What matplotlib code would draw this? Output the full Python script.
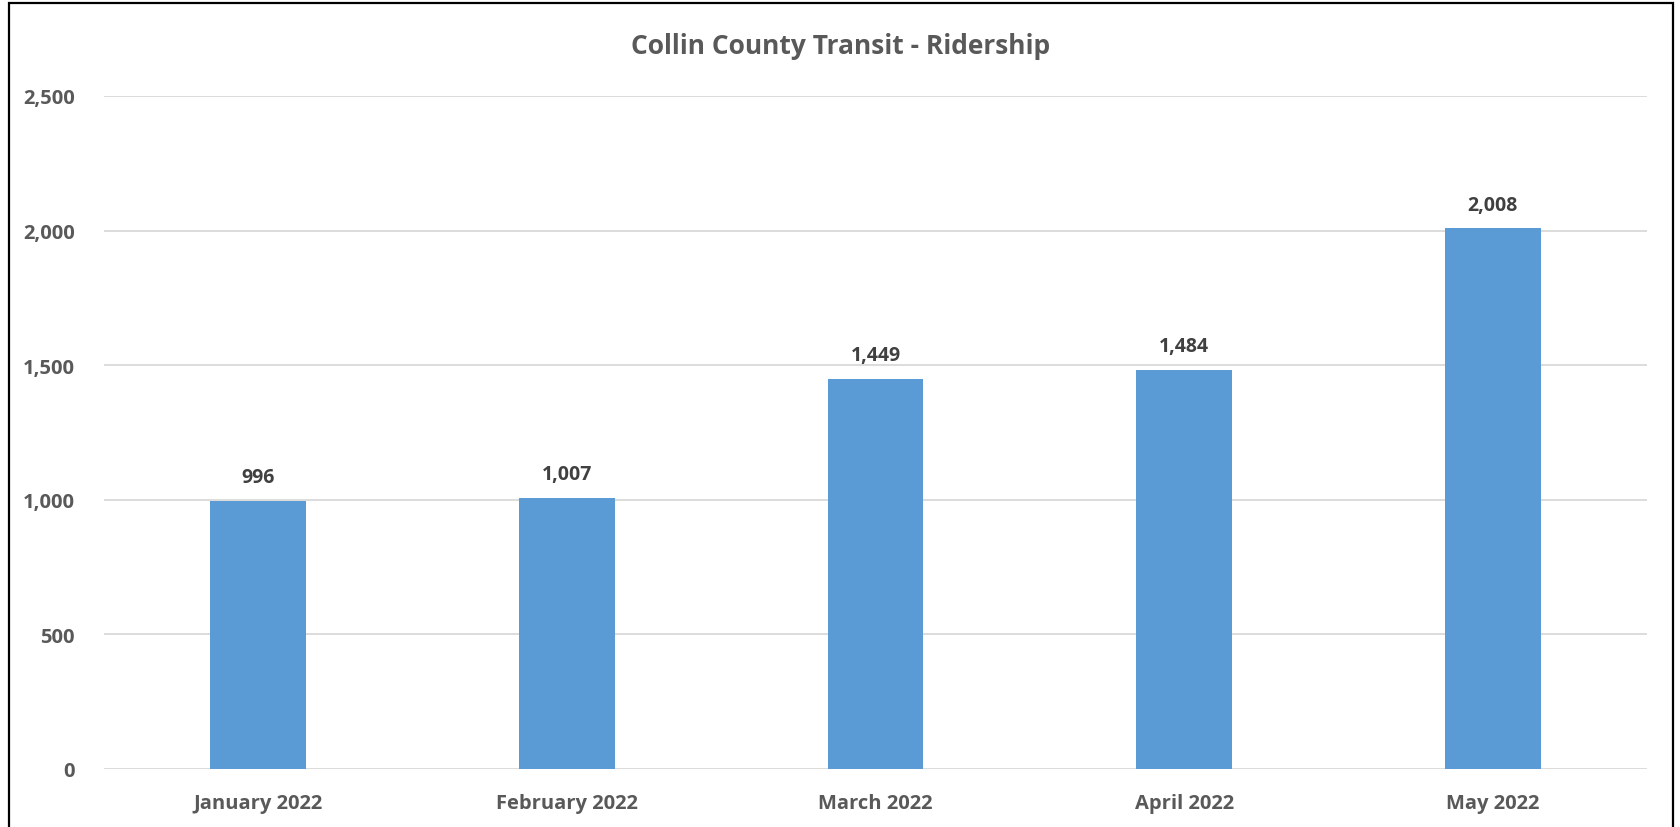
import matplotlib.pyplot as plt
from matplotlib.patches import Rectangle
from matplotlib.ticker import FuncFormatter

# data
months = ['January 2022', 'February 2022', 'March 2022', 'April 2022', 'May 2022']
riders = [996, 1007, 1449, 1484, 2008]
y_ticks = [0, 500, 1000, 1500, 2000, 2500]

plt.rcParams['font.family'] = ['Open Sans', 'DejaVu Sans']
plt.rcParams['font.weight'] = 'bold'

fig = plt.figure(figsize=(16.81, 8.28), dpi=100)
ax = fig.add_axes([104 / 1681, 1 - 770 / 828, (1647 - 104) / 1681, (770 - 97) / 828])

x = range(len(months))
bars = ax.bar(x, riders, width=0.31, color='#5B9BD5', zorder=3)

ax.set_xlim(-0.5, len(months) - 0.5)
ax.set_ylim(0, 2500)
ax.set_yticks(y_ticks)
ax.yaxis.set_major_formatter(FuncFormatter(lambda v, p: f'{int(v):,}'))
ax.set_xticks(list(x))
ax.set_xticklabels(months)

# 격자
ax.grid(axis='y', color='#D9D9D9', linewidth=1.3, zorder=0)
for s in ax.spines.values():
    s.set_visible(False)
ax.tick_params(length=0, labelsize=14.5, labelcolor='#595959')
ax.tick_params(axis='x', labelsize=14.5, pad=17)
ax.tick_params(axis='y', pad=21)

for b, v in zip(bars, riders):
    ax.annotate(f'{v:,}', (b.get_x() + b.get_width() / 2, v),
                xytext=(0, 10), textcoords='offset points',
                ha='center', va='bottom', fontsize=14, fontweight='bold',
                color='#404040')

fig.text(0.5, 1 - 47 / 828, 'Collin County Transit - Ridership', ha='center', va='center',
         fontsize=19, fontweight='bold', color='#595959')

# 테두리
fig.patches.append(Rectangle((9 / 1681, -0.05), (1673 - 9) / 1681, 1.05 - 4 / 828,
                             transform=fig.transFigure, fill=False,
                             edgecolor='black', linewidth=1.6))

fig.savefig('out.png', dpi=100)
